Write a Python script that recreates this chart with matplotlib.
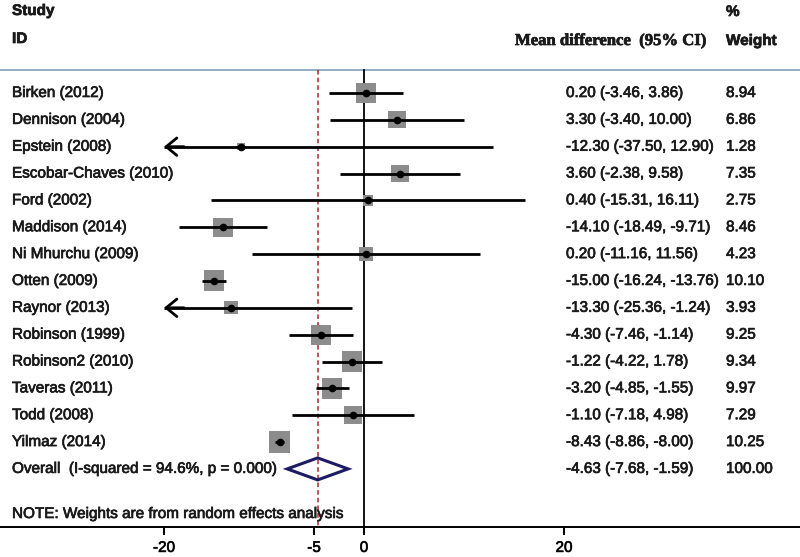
import matplotlib
matplotlib.use("Agg")
import matplotlib.pyplot as plt
from matplotlib.patches import Polygon
import matplotlib.patheffects as pe
import numpy as np

studies = ["Birken (2012)", "Dennison (2004)", "Epstein (2008)", "Escobar-Chaves (2010)",
           "Ford (2002)", "Maddison (2014)", "Ni Mhurchu (2009)", "Otten (2009)",
           "Raynor (2013)", "Robinson (1999)", "Robinson2 (2010)", "Taveras (2011)",
           "Todd (2008)", "Yilmaz (2014)"]
md = [0.20, 3.30, -12.30, 3.60, 0.40, -14.10, 0.20, -15.00, -13.30, -4.30, -1.22, -3.20, -1.10, -8.43]
lo = [-3.46, -3.40, -37.50, -2.38, -15.31, -18.49, -11.16, -16.24, -25.36, -7.46, -4.22, -4.85, -7.18, -8.86]
hi = [3.86, 10.00, 12.90, 9.58, 16.11, -9.71, 11.56, -13.76, -1.24, -1.14, 1.78, -1.55, 4.98, -8.00]
weights = [8.94, 6.86, 1.28, 7.35, 2.75, 8.46, 4.23, 10.10, 3.93, 9.25, 9.34, 9.97, 7.29, 10.25]
overall_md, overall_lo, overall_hi, overall_w = -4.63, -7.68, -1.59, 100.00
overall_label = "Overall  (I-squared = 94.6%, p = 0.000)"
note = "NOTE: Weights are from random effects analysis"
xticks = [-20, -5, 0, 20]
axis_min = -20

W, H = 800, 557
fig = plt.figure(figsize=(W / 100, H / 100), dpi=100)
axis_y = 527
ax = fig.add_axes([0, (H - axis_y) / H, 1, axis_y / H])
x0px, scale = 364, 10.0
ax.set_xlim(-x0px / scale, (W - x0px) / scale)
ax.set_ylim(axis_y, 0)
for s in ["top", "left", "right"]:
    ax.spines[s].set_visible(False)
ax.spines["bottom"].set_linewidth(1.4)
ax.set_yticks([])
ax.set_xticks(xticks)
ax.set_xticklabels([str(t) for t in xticks])
ax.tick_params(axis="x", direction="out", length=6, width=1.4, pad=4, labelsize=11)
heavy = [pe.withStroke(linewidth=0.5, foreground="#1a1a1a")]
for lab in ax.get_xticklabels():
    lab.set_fontfamily("Liberation Sans")
    lab.set_path_effects(heavy)

font = "Liberation Sans"
fs = 11
row0, dy = 93, 26.85
ys = [row0 + i * dy for i in range(len(studies))]
y_over = row0 + len(studies) * dy
top_line = 70
xpix = lambda p: (p - x0px) / scale
col_ci, col_w = 566, 726
tc = "#1a1a1a"


def txt(px, y, s, **kw):
    kw.setdefault("fontsize", fs)
    kw.setdefault("family", font)
    ax.text(xpix(px), y, s, va="center", color=tc, path_effects=heavy, **kw)


# header
txt(12, 11, "Study", fontweight="bold")
txt(12, 39, "ID", fontweight="bold")
txt(515, 41, "Mean difference  (95% CI)", fontsize=12, family="Liberation Serif", fontweight="bold")
txt(col_w, 12, "%", fontweight="bold")
txt(col_w, 41, "Weight", fontweight="bold")
ax.axhline(top_line, color="#8aa6bf", lw=1.3)

# reference lines
ax.plot([0, 0], [top_line, axis_y], color="black", lw=1.3)
ax.plot([overall_md, overall_md], [top_line, axis_y], color="#a32c2c", lw=1.1, ls=(0, (3, 2)))

k = 6.6
for i, y in enumerate(ys):
    txt(12, y, studies[i])
    txt(col_ci, y, f"{md[i]:.2f} ({lo[i]:.2f}, {hi[i]:.2f})")
    txt(col_w, y, f"{weights[i]:.2f}")
    side = k * np.sqrt(weights[i])
    ax.add_patch(plt.Rectangle((md[i] - side / 2 / scale, y - side / 2), side / scale, side,
                               facecolor="#8c8c8c", edgecolor="none", zorder=3))
    left = max(lo[i], axis_min)
    ax.plot([left, hi[i]], [y, y], color="black", lw=2.0, zorder=4, solid_capstyle="butt")
    if lo[i] < axis_min:
        ax.annotate("", xy=(axis_min, y), xytext=(axis_min + 2.0, y),
                    arrowprops=dict(arrowstyle="->,head_length=0.55,head_width=0.45",
                                    color="black", lw=2.0, mutation_scale=14,
                                    shrinkA=0, shrinkB=0), zorder=4)
    ax.plot(md[i], y, "o", color="black", ms=4.5, zorder=5)

# overall
txt(12, y_over, overall_label)
txt(col_ci, y_over, f"{overall_md:.2f} ({overall_lo:.2f}, {overall_hi:.2f})")
txt(col_w, y_over, f"{overall_w:.2f}")
dh = 11
ax.add_patch(Polygon([[overall_lo, y_over], [overall_md, y_over - dh], [overall_hi, y_over],
                      [overall_md, y_over + dh]], closed=True, facecolor="none",
                     edgecolor="#1c1c64", lw=2.2, zorder=5))

txt(12, 514, note)

fig.savefig("out.png", dpi=100)
